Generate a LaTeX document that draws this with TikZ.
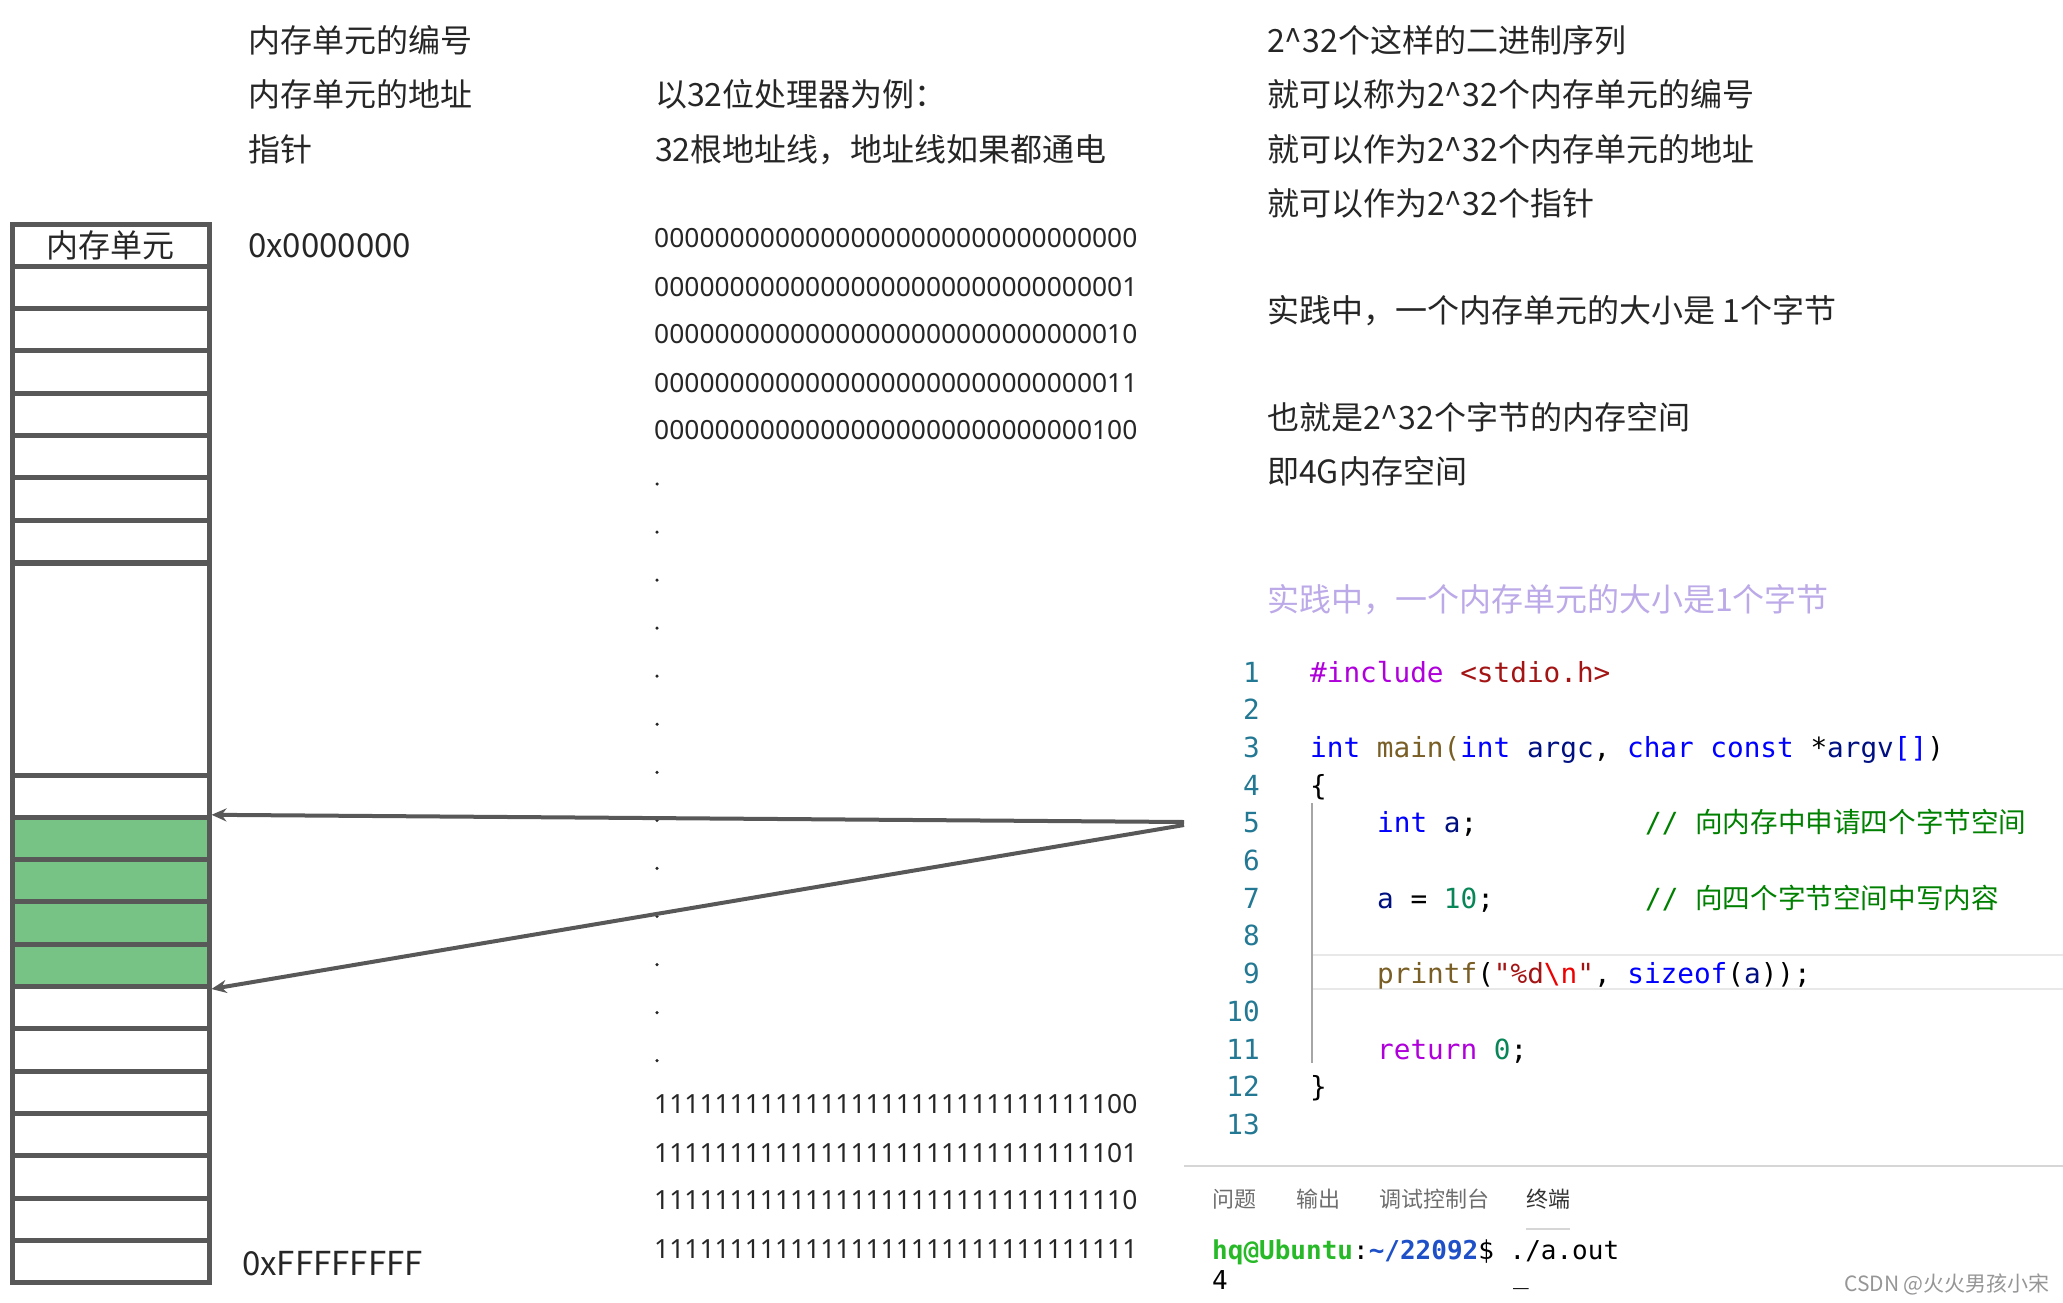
\documentclass[tikz,border=0pt]{standalone}
\usepackage{fontspec}
\setmainfont{Noto Sans CJK SC}
\setmonofont{DejaVu Sans Mono}
\newfontfamily\binfont{Noto Sans}
\newfontfamily\cjkf{Noto Sans CJK SC}
\usetikzlibrary{arrows.meta}
\definecolor{gridc}{RGB}{88,88,88}
\definecolor{cellgreen}{RGB}{119,195,134}
\definecolor{txt}{RGB}{38,38,38}
\definecolor{purp}{RGB}{188,170,232}
\definecolor{kwc}{RGB}{175,0,219}
\definecolor{strc}{RGB}{163,21,21}
\definecolor{typec}{RGB}{0,0,255}
\definecolor{fnc}{RGB}{121,94,38}
\definecolor{varc}{RGB}{0,16,128}
\definecolor{numc}{RGB}{9,134,88}
\definecolor{commc}{RGB}{0,128,0}
\definecolor{escc}{RGB}{238,0,0}
\definecolor{lnc}{RGB}{35,120,147}
\definecolor{hlc}{RGB}{232,232,232}
\definecolor{sepc}{RGB}{214,214,214}
\definecolor{tabc}{RGB}{110,110,110}
\definecolor{termg}{RGB}{40,185,40}
\definecolor{termb}{RGB}{30,80,200}
\definecolor{wmc}{RGB}{150,150,150}
\begin{document}
\begin{tikzpicture}[x=1pt,y=-1pt,
  cell/.style={draw=gridc, line width=5pt, minimum width=197pt, minimum height=42.3pt, inner sep=0pt, text=txt, font=\fontsize{32}{36}\selectfont},
  gcell/.style={cell, fill=cellgreen},
  lbl/.style={anchor=base west, inner sep=0pt, text=txt, font=\fontsize{32}{38}\selectfont},
  bin/.style={anchor=base west, inner sep=0pt, text=txt, font=\binfont\fontsize{26.4}{30}\selectfont},
  code/.style={anchor=base west, inner sep=0pt, text=black, font=\ttfamily\fontsize{27.7}{32}\selectfont},
  lnum/.style={anchor=base east, inner sep=0pt, text=lnc, font=\ttfamily\fontsize{27.7}{32}\selectfont},
  tabn/.style={anchor=base west, inner sep=0pt, text=tabc, font=\fontsize{22}{26}\selectfont},
  term/.style={anchor=base west, inner sep=0pt, text=black, font=\ttfamily\fontsize{26}{30}\selectfont},
  arr/.style={draw=gridc, line width=4pt, -{Stealth[length=15pt,width=13pt]}},
  dotn/.style={circle, fill=txt, inner sep=0pt, minimum size=3.5pt}]
\useasboundingbox (0,0) rectangle (2063,1303);

% memory column
\node[cell] (top0) at (110.5,245.15) {内存单元};
\foreach \i in {1,...,7} \node[cell] (top\i) at (110.5,{224+42.3*(\i+0.5)}) {};
\node[cell, minimum height=212pt] (big) at (110.5,669) {};
\foreach \j in {0,5,6,7,8,9,10,11} \node[cell] (low\j) at (110.5,{775+42.3*(\j+0.5)}) {};
\foreach \j in {1,2,3,4} \node[gcell] (low\j) at (110.5,{775+42.3*(\j+0.5)}) {};

% left labels
\node[lbl] (t1) at (248,53) {内存单元的编号};
\node[lbl] (t2) at (248,107) {内存单元的地址};
\node[lbl] (t3) at (248,161) {指针};
\node[lbl, font=\fontsize{33}{38}\selectfont] (a0) at (248,257) {0x0000000};
\node[lbl, font=\fontsize{33}{38}\selectfont] (aF) at (242,1275) {0xFFFFFFFF};

% middle
\node[lbl] (p1) at (655,107) {以32位处理器为例：};
\node[lbl] (p2) at (655,161) {32根地址线，地址线如果都通电};
\node[bin] (r1) at (654,247.5) {00000000000000000000000000000000};
\node[bin] (r2) at (654,296.5) {00000000000000000000000000000001};
\node[bin] (r3) at (654,343.5) {00000000000000000000000000000010};
\node[bin] (r4) at (654,392.5) {00000000000000000000000000000011};
\node[bin] (r5) at (654,439.5) {00000000000000000000000000000100};
\foreach \k in {0,...,12} \node[dotn] (dot\k) at (657,{484+48.05*\k}) {};
\node[bin] (s1) at (654,1113.5) {11111111111111111111111111111100};
\node[bin] (s2) at (654,1162.5) {11111111111111111111111111111101};
\node[bin] (s3) at (654,1209.5) {11111111111111111111111111111110};
\node[bin] (s4) at (654,1258.5) {11111111111111111111111111111111};

% right text
\node[lbl] (q1) at (1267,53) {2\textasciicircum 32个这样的二进制序列};
\node[lbl] (q2) at (1267,107) {就可以称为2\textasciicircum 32个内存单元的编号};
\node[lbl] (q3) at (1267,161) {就可以作为2\textasciicircum 32个内存单元的地址};
\node[lbl] (q4) at (1267,215) {就可以作为2\textasciicircum 32个指针};
\node[lbl] (q5) at (1267,322) {实践中，一个内存单元的大小是 1个字节};
\node[lbl] (q6) at (1267,429) {也就是2\textasciicircum 32个字节的内存空间};
\node[lbl] (q7) at (1267,483) {即4G内存空间};
\node[lbl, text=purp] (q8) at (1267,611) {实践中，一个内存单元的大小是1个字节};

% code editor
\draw[hlc, line width=2pt] (1312,955) -- (2063,955);
\draw[hlc, line width=2pt] (1312,989) -- (2063,989);
\draw[gray!70, line width=1.2pt] (1312,803) -- (1312,1063);
\foreach \n in {1,...,13} \node[lnum] (ln\n) at (1260,{682+37.7*(\n-1)}) {\n};
\node[code] (c1) at (1310,682) {{\color{kwc}\#include} {\color{strc}<stdio.h>}};
\node[code] (c3) at (1310,757.4) {{\color{typec}int} {\color{fnc}main(}{\color{typec}int} {\color{varc}argc}, {\color{typec}char} {\color{typec}const} *{\color{varc}argv}{\color{typec}[]})};
\node[code] (c4) at (1310,795.1) {\{};
\node[code] (c5) at (1377,832.8) {{\color{typec}int} {\color{varc}a};};
\node[code, text=commc] (m5) at (1645,832.8) {// {\cjkf\fontsize{27.6}{32}\selectfont 向内存中申请四个字节空间}};
\node[code] (c7) at (1377,908.2) {{\color{varc}a} = {\color{numc}10};};
\node[code, text=commc] (m7) at (1645,908.2) {// {\cjkf\fontsize{27.6}{32}\selectfont 向四个字节空间中写内容}};
\node[code] (c9) at (1377,983.6) {{\color{fnc}printf}({\color{strc}"\%d{\color{escc}\textbackslash n}"}, {\color{typec}sizeof}({\color{varc}a}));};
\node[code] (c11) at (1377,1059) {{\color{kwc}return} {\color{numc}0};};
\node[code] (c12) at (1310,1096.7) {\}};

% terminal panel
\draw[sepc, line width=2pt] (1184,1166) -- (2063,1166);
\node[tabn] (tb1) at (1212,1207) {问题};
\node[tabn] (tb2) at (1296,1207) {输出};
\node[tabn] (tb3) at (1379,1207) {调试控制台};
\node[tabn, text=black!80] (tb4) at (1526,1207) {终端};
\draw[sepc, line width=2pt] (1526,1229) -- (1570,1229);
\node[term] (pr) at (1212,1259) {{\bfseries\color{termg}hq@Ubuntu}:{\bfseries\color{termb}\textasciitilde/22092}\$ ./a.out};
\node[term] (out) at (1212,1289) {4};
\node[term] (cur) at (1513,1283) {\_};
\node[anchor=base east, inner sep=0pt, text=wmc, font=\fontsize{21}{24}\selectfont] (wm) at (2050,1291) {CSDN @火火男孩小宋};

% arrows
\coordinate (src1) at (1184,822);
\coordinate (src2) at (1184,825);
\draw[arr] (src1) -- (low1.north east);
\draw[arr] (src2) -- (low4.south east);
\end{tikzpicture}
\end{document}
